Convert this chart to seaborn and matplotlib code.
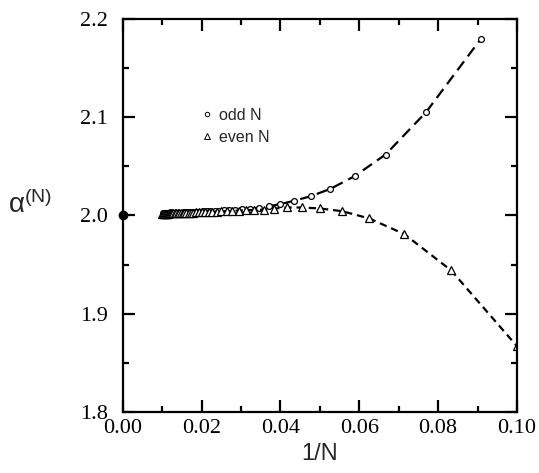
import numpy as np
import matplotlib
matplotlib.use("Agg")
import matplotlib.pyplot as plt
from matplotlib.lines import Line2D
from matplotlib.ticker import MultipleLocator, FormatStrFormatter
import seaborn as sns

# system sizes
odd_N = [11, 13, 15, 17, 19, 21, 23, 25, 27, 29, 31, 33, 35, 37, 39, 41, 43, 45,
         47, 49, 51, 53, 55, 57, 59, 61, 63, 65, 67, 69, 71, 73, 75, 77, 79, 81,
         83, 85, 87, 89, 91, 93, 95, 97, 99]
even_N = [10, 12, 14, 16, 18, 20, 22, 24, 26, 28, 30, 32, 34, 36, 38, 40, 42, 44,
          46, 48, 50, 52, 54, 56, 58, 60, 62, 64, 66, 68, 70, 72, 74, 76, 78, 80,
          82, 84, 86, 88, 90, 92, 94, 96, 98, 100]

# alpha^(N)
odd_alpha = [2.180, 2.105, 2.062, 2.040, 2.027, 2.0195, 2.015, 2.0115, 2.0095, 2.008,
             2.0065, 2.0061, 2.0057, 2.0054, 2.0051, 2.0049, 2.0047, 2.0044, 2.0043,
             2.0041, 2.0039, 2.0038, 2.0036, 2.0035, 2.0034, 2.0033, 2.0032, 2.0031,
             2.0030, 2.0029, 2.0028, 2.0027, 2.0027, 2.0026, 2.0025, 2.0025, 2.0024,
             2.0024, 2.0023, 2.0022, 2.0022, 2.0022, 2.0021, 2.0021, 2.0020]
even_alpha = [1.867, 1.944, 1.981, 1.997, 2.0044, 2.0071, 2.0081, 2.0081, 2.0070, 2.0058,
              2.0056, 2.0053, 2.0050, 2.0047, 2.0045, 2.0042, 2.0040, 2.0039, 2.0037,
              2.0035, 2.0034, 2.0033, 2.0031, 2.0030, 2.0029, 2.0028, 2.0027, 2.0027,
              2.0026, 2.0025, 2.0024, 2.0024, 2.0023, 2.0022, 2.0022, 2.0021, 2.0021,
              2.0020, 2.0020, 2.0019, 2.0019, 2.0018, 2.0018, 2.0018, 2.0017, 2.0017]

limit_x = [0.0]
limit_alpha = [2.0]

sns.set_style("ticks")
plt.rcParams['font.family'] = ['Liberation Sans', 'DejaVu Sans']
plt.rcParams['mathtext.fontset'] = 'custom'
plt.rcParams['mathtext.rm'] = 'Liberation Sans'
plt.rcParams['mathtext.it'] = 'Liberation Sans'

fig = plt.figure(figsize=(5.39, 4.73), dpi=100)
ax = fig.add_axes([0.228, 0.129, 0.731, 0.831])

x_odd = 1.0 / np.array(odd_N)
x_even = 1.0 / np.array(even_N)

sns.lineplot(x=x_odd, y=odd_alpha, ax=ax, color='black', lw=1.6,
             linestyle=(0, (5, 2.8)), marker='o', markersize=4.2,
             markerfacecolor='white', markeredgecolor='black',
             markeredgewidth=0.9, sort=True)
sns.lineplot(x=x_even, y=even_alpha, ax=ax, color='black', lw=1.6,
             linestyle=(0, (3.3, 2.2)), marker='^', markersize=6,
             markerfacecolor='white', markeredgecolor='black',
             markeredgewidth=0.9, sort=True)
ax.plot(limit_x, limit_alpha, 'o', color='black', markersize=6, clip_on=False, zorder=5)

ax.set_xlim(0.0, 0.10)
ax.set_ylim(1.8, 2.2)
ax.xaxis.set_major_locator(MultipleLocator(0.02))
ax.xaxis.set_minor_locator(MultipleLocator(0.01))
ax.yaxis.set_major_locator(MultipleLocator(0.1))
ax.yaxis.set_minor_locator(MultipleLocator(0.05))
ax.xaxis.set_major_formatter(FormatStrFormatter('%.2f'))
ax.yaxis.set_major_formatter(FormatStrFormatter('%.1f'))

ax.tick_params(which='both', direction='in', top=True, right=True, width=1.6, colors='black')
ax.tick_params(which='major', length=8.5)
ax.tick_params(which='minor', length=4.3)
ax.tick_params(axis='x', which='major', pad=5)
ax.tick_params(axis='y', which='major', pad=11)
for lab in ax.get_xticklabels() + ax.get_yticklabels():
    lab.set_fontfamily('Liberation Serif')
    lab.set_fontsize(16)
for sp in ax.spines.values():
    sp.set_linewidth(1.6)
    sp.set_color('black')

ax.set_xlabel('1/N', fontsize=17, labelpad=4)
ax.set_ylabel('α$^{\\rm (N)}$', fontsize=20, rotation=0)
ax.yaxis.set_label_coords(-0.235, 0.49)

handles = [Line2D([], [], ls='none', marker='o', markersize=3.2, markerfacecolor='white',
                  markeredgecolor='black', markeredgewidth=0.7),
           Line2D([], [], ls='none', marker='^', markersize=3.8, markerfacecolor='white',
                  markeredgecolor='black', markeredgewidth=0.7)]
ax.legend(handles, ['odd N', 'even N'], loc='upper left', frameon=False,
          bbox_to_anchor=(0.185, 0.79), fontsize=11.5, handlelength=0.6,
          handletextpad=0.45, labelspacing=0.45, borderaxespad=0)

fig.savefig('out.png', dpi=100)
